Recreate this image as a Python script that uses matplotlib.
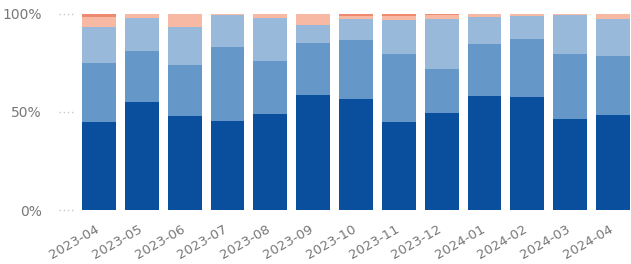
import matplotlib
matplotlib.use("Agg")
import matplotlib.pyplot as plt
import matplotlib.transforms as mtransforms
import numpy as np

months = ["2023-04", "2023-05", "2023-06", "2023-07", "2023-08", "2023-09", "2023-10",
          "2023-11", "2023-12", "2024-01", "2024-02", "2024-03", "2024-04"]
# share of each group per month (%), bottom to top
dark_blue = [45, 55, 48, 45.5, 49, 58.5, 56.5, 45, 49.5, 58, 57.5, 46.5, 48.5]
mid_blue = [30, 26, 26, 37.5, 27, 26.5, 30, 34.5, 22.5, 26.5, 29.5, 33, 30]
light_blue = [18, 16.5, 19, 16.3, 21.5, 9, 10.5, 17, 25, 13.5, 11.5, 19.7, 18.5]
salmon = [5, 2, 6.5, 0.7, 2, 6, 1.5, 2.3, 2, 2, 1.5, 0.8, 2.5]
red = [2, 0.5, 0.5, 0, 0.5, 0, 1.5, 1.2, 1, 0, 0, 0, 0.5]

series = [dark_blue, mid_blue, light_blue, salmon, red]
colors = ["#0a4f9e", "#6597c8", "#98b9da", "#f8b9a4", "#ee8a6f"]

fig = plt.figure(figsize=(6.31, 2.64), dpi=100)
ax = fig.add_axes([75 / 631, 54 / 264, 556 / 631, 196.5 / 264])

x = np.arange(len(months))
bottom = np.zeros(len(months))
for vals, c in zip(series, colors):
    ax.bar(x, vals, bottom=bottom, width=0.79, color=c, linewidth=0)
    bottom += np.array(vals)

ax.set_xlim(-0.56, 12.42)
ax.set_ylim(0, 100)
for s in ax.spines.values():
    s.set_visible(False)

# short dotted guides left of the bars
for yv in [0, 50, 100]:
    ax.plot([-0.028, -0.003], [yv, yv], transform=ax.get_yaxis_transform(),
            color="#c8c8c8", lw=1, ls=(0, (1, 2)), clip_on=False)

ax.set_yticks([0, 50, 100])
ax.set_yticklabels(["0%", "50%", "100%"])
ax.set_xticks(x)
ax.set_xticklabels(months, rotation=30, ha="right", rotation_mode="anchor")
ax.tick_params(axis="y", length=0, pad=24, labelsize=10, labelcolor="#777777")
ax.tick_params(axis="x", length=0, pad=9, labelsize=9.5, labelcolor="#777777")
shift = mtransforms.ScaledTranslation(-4 / 100, 0, fig.dpi_scale_trans)
for lab in ax.get_xticklabels():
    lab.set_transform(lab.get_transform() + shift)

fig.savefig("out.png", dpi=100)
